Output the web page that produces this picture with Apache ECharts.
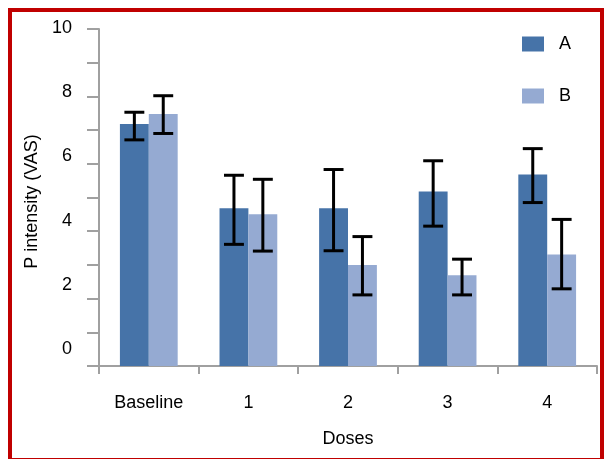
<!DOCTYPE html>
<html><head><meta charset="utf-8">
<script src="https://cdn.jsdelivr.net/npm/echarts@6/dist/echarts.min.js"></script>
<style>html,body{margin:0;padding:0;background:#fff;overflow:hidden}#c{width:605px;height:459px}</style>
</head><body><div id="c"></div>
<script>
var categories = ['Baseline', '1', '2', '3', '4'];
var seriesNames = ['A', 'B'];
var meanA = [7.18, 4.68, 4.68, 5.18, 5.68];
var meanB = [7.48, 4.50, 3.00, 2.69, 3.31];
var lowA = [6.71, 3.61, 3.42, 4.15, 4.85];
var highA = [7.53, 5.66, 5.83, 6.09, 6.45];
var lowB = [6.90, 3.41, 2.11, 2.11, 2.29];
var highB = [8.02, 5.54, 3.84, 3.17, 4.35];
var yTicks = [0, 2, 4, 6, 8, 10];

var FONT = 'Liberation Sans, Arial, sans-serif';
var AXIS = '#a0a0a0';
var BARW = 0.29;

function errData(lo, hi) {
  return categories.map(function (c, i) { return [i, lo[i], hi[i]]; });
}
function errRender(side) {
  return function (params, api) {
    var i = api.value(0);
    var band = api.size([1, 0])[0];
    var off = side * band * BARW / 2;
    var pLo = api.coord([i, api.value(1)]);
    var pHi = api.coord([i, api.value(2)]);
    var x = pLo[0] + off;
    var cap = band * 0.1;
    var st = { stroke: '#000', lineWidth: 3 };
    return {
      type: 'group',
      children: [
        { type: 'line', shape: { x1: x, y1: pHi[1], x2: x, y2: pLo[1] }, style: st },
        { type: 'line', shape: { x1: x - cap, y1: pHi[1], x2: x + cap, y2: pHi[1] }, style: st },
        { type: 'line', shape: { x1: x - cap, y1: pLo[1], x2: x + cap, y2: pLo[1] }, style: st }
      ]
    };
  };
}

var chart = echarts.init(document.getElementById('c'), null, { renderer: 'canvas' });
chart.setOption({
  animation: false,
  textStyle: { fontFamily: FONT },
  graphic: [{
    type: 'rect', shape: { x: 10, y: 10, width: 592, height: 450 },
    style: { fill: 'none', stroke: '#c00000', lineWidth: 4 }, z: 100
  }],
  legend: {
    orient: 'vertical', left: 522, top: 35, padding: 0, itemWidth: 22, itemHeight: 15, itemGap: 34,
    icon: 'rect', data: seriesNames,
    textStyle: { fontSize: 18, color: '#000', fontFamily: FONT, padding: [0, 0, 0, 10] }
  },
  grid: [
    { left: 99, right: 8, top: 29, bottom: 93 },
    { left: 99, width: 10, top: 28, height: 321 }
  ],
  xAxis: [{
    type: 'category', data: categories, gridIndex: 0,
    name: 'Doses', nameLocation: 'middle', nameGap: 64,
    nameTextStyle: { fontSize: 18, color: '#000', fontFamily: FONT },
    axisLine: { lineStyle: { color: AXIS, width: 2 } },
    axisTick: { show: true, length: 8, lineStyle: { color: AXIS, width: 2 } },
    axisLabel: { fontSize: 18, color: '#000', margin: 28, fontFamily: FONT }
  }, {
    type: 'category', data: categories, gridIndex: 1, show: false
  }],
  yAxis: [{
    type: 'value', gridIndex: 0, min: 0, max: 10, interval: 1,
    name: 'P intensity (VAS)', nameLocation: 'middle', nameGap: 58,
    nameTextStyle: { fontSize: 18, color: '#000', fontFamily: FONT, padding: [0, 0, 0, -8] },
    axisLine: { show: true, lineStyle: { color: AXIS, width: 2 } },
    axisTick: { show: true, length: 12, lineStyle: { color: AXIS, width: 2 } },
    axisLabel: { show: false },
    splitLine: { show: false }
  }, {
    type: 'value', gridIndex: 1, min: yTicks[0], max: yTicks[yTicks.length - 1], interval: yTicks[1] - yTicks[0],
    axisLine: { show: false }, axisTick: { show: false }, splitLine: { show: false },
    axisLabel: { fontSize: 18, color: '#000', margin: 27, fontFamily: FONT }
  }],
  series: [
    { name: 'A', type: 'bar', data: meanA, barWidth: '29%', barGap: '0%', itemStyle: { color: '#4673a8' } },
    { name: 'B', type: 'bar', data: meanB, barWidth: '29%', barGap: '0%', itemStyle: { color: '#95aad2' } },
    { type: 'custom', data: errData(lowA, highA), renderItem: errRender(-1), encode: { x: 0, y: [1, 2] }, z: 10 },
    { type: 'custom', data: errData(lowB, highB), renderItem: errRender(1), encode: { x: 0, y: [1, 2] }, z: 10 }
  ]
});
</script></body></html>
